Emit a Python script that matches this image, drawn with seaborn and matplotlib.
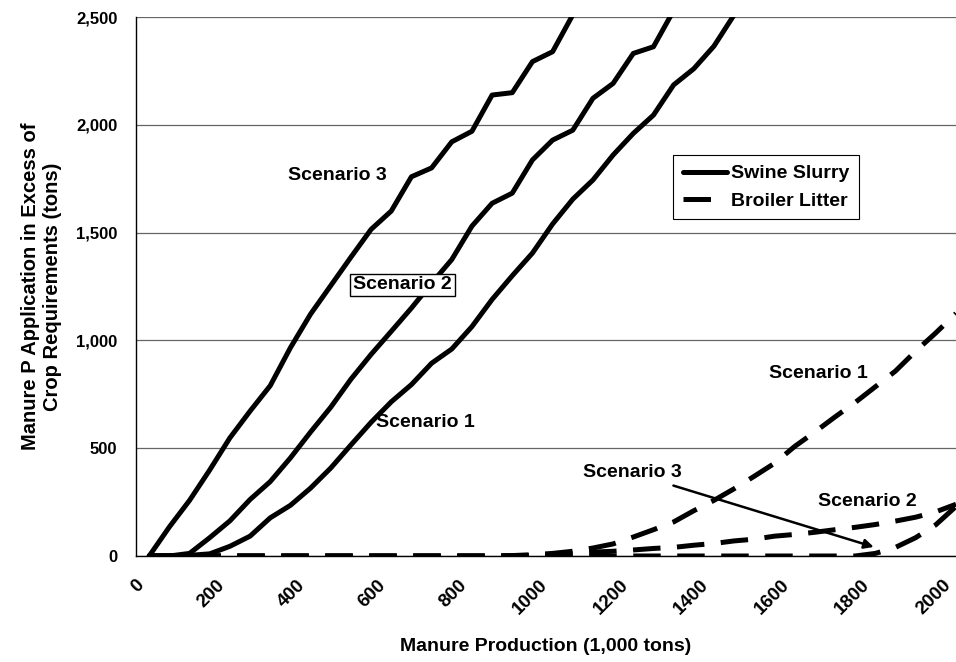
import matplotlib
matplotlib.use("Agg")
import matplotlib.pyplot as plt
from matplotlib.lines import Line2D
import seaborn as sns

# Production categories (1,000 tons), one every 50
production = list(range(0, 2001, 50))
tick_labels = ["0", "200", "400", "600", "800", "1000", "1200", "1400", "1600", "1800", "2000"]
yticks = [0, 500, 1000, 1500, 2000, 2500]

# Swine slurry (solid) - curves run off the top of the chart
swine_s1 = [0, 0, 3, 10, 45, 92, 177, 235, 315, 408, 515, 620, 715, 795, 894, 960,
            1064, 1190, 1300, 1405, 1540, 1655, 1744, 1860, 1960, 2045, 2185, 2260,
            2365, 2510, 2650]
swine_s2 = [0, 0, 12, 85, 163, 262, 345, 455, 575, 690, 820, 935, 1042, 1150, 1265,
            1375, 1530, 1636, 1683, 1837, 1929, 1975, 2123, 2192, 2331, 2362, 2530, 2600]
swine_s3 = [0, 135, 258, 399, 548, 672, 790, 966, 1122, 1254, 1386, 1515, 1600, 1759,
            1800, 1921, 1970, 2138, 2149, 2293, 2339, 2510, 2560]

# Broiler litter (dashed)
broiler_s1 = [0] * 18 + [2, 6, 12, 22, 37, 56, 88, 122, 158, 210, 258, 312, 370, 430,
                         508, 575, 645, 712, 785, 858, 950, 1035, 1125]
broiler_s2 = [0] * 19 + [2, 6, 12, 18, 22, 28, 35, 40, 50, 58, 70, 78, 92, 100, 110,
                         122, 133, 146, 162, 180, 205, 240]
broiler_s3 = [0] * 36 + [12, 40, 85, 145, 230]

sns.set_style("white")
plt.rcParams["font.family"] = ["Liberation Sans", "DejaVu Sans"]
plt.rcParams["font.weight"] = "bold"
for key in ["text.color", "axes.labelcolor", "xtick.color", "ytick.color"]:
    plt.rcParams[key] = "black"

fig = plt.figure(figsize=(9.56, 6.62), dpi=100)
ax = fig.add_axes([135.5 / 956, 1 - 556 / 662, 1 - 135.5 / 956, (556 - 17) / 662])

lw = 3.6
dash = (0, (5.5, 3.3))
for ys in [swine_s1, swine_s2, swine_s3]:
    sns.lineplot(x=production[:len(ys)], y=ys, ax=ax, color="black", linewidth=lw)
for ys in [broiler_s1, broiler_s2, broiler_s3]:
    sns.lineplot(x=production[:len(ys)], y=ys, ax=ax, color="black", linewidth=lw,
                 linestyle=dash, dash_capstyle="butt")

ax.set_xlim(-25, 2000)
ax.set_ylim(0, 2500)
ax.set_yticks(yticks)
ax.set_yticklabels([f"{v:,}" for v in yticks], fontsize=12, fontweight="bold")
# labels sit a little left of their category so the rotated text ends under it
ax.set_xticks([p - 34 for p in production[::4]])
ax.set_xticklabels(tick_labels, rotation=45, ha="right", va="top", rotation_mode="anchor",
                   fontsize=13.5, fontweight="bold")
ax.set_xticks([p - 25 for p in production], minor=True)
ax.tick_params(axis="x", which="major", length=0, pad=15)
ax.tick_params(axis="x", which="minor", length=4, width=0.8, direction="out", color="black")
ax.tick_params(axis="y", length=5, width=0.8, direction="out", color="black", pad=8)
ax.yaxis.grid(True, color="0.4", linewidth=0.9)
ax.set_axisbelow(True)
for side in ["top", "right"]:
    ax.spines[side].set_visible(False)
for side in ["left", "bottom"]:
    ax.spines[side].set_color("black")
    ax.spines[side].set_linewidth(1.0)

ax.set_xlabel("Manure Production (1,000 tons)", fontsize=14, fontweight="bold", labelpad=14)
ax.set_ylabel("Manure P Application in Excess of\nCrop Requirements (tons)", fontsize=14.5,
              fontweight="bold", labelpad=10)

lab = dict(fontsize=14, fontweight="bold", ha="center", va="center")
ax.text(466, 1767, "Scenario 3", **lab)
ax.text(628, 1257, "Scenario 2",
        bbox=dict(boxstyle="square,pad=0.15", fc="white", ec="black", lw=1), **lab)
ax.text(685, 617, "Scenario 1", **lab)
ax.text(1660, 847, "Scenario 1", **lab)
ax.text(1780, 252, "Scenario 2", **lab)
ax.annotate("Scenario 3", xy=(1796, 42), xytext=(1320, 385),
            fontsize=14, fontweight="bold", ha="right", va="center",
            arrowprops=dict(arrowstyle="-|>", color="black", lw=1.8,
                            mutation_scale=14, shrinkA=2, shrinkB=0))

handles = [Line2D([], [], color="black", lw=lw),
           Line2D([], [], color="black", lw=lw, linestyle=dash)]
leg = ax.legend(handles, ["Swine Slurry", "Broiler Litter"], loc="upper left",
                bbox_to_anchor=(673 / 956, 1 - 155 / 662), bbox_transform=fig.transFigure,
                frameon=True, fancybox=False, framealpha=1, edgecolor="black",
                prop=dict(size=14, weight="bold"), handlelength=2.3, handletextpad=0.2,
                borderpad=0.5, labelspacing=0.5, borderaxespad=0)
leg.get_frame().set_linewidth(0.8)

plt.savefig("out.png", dpi=100)
plt.close()
